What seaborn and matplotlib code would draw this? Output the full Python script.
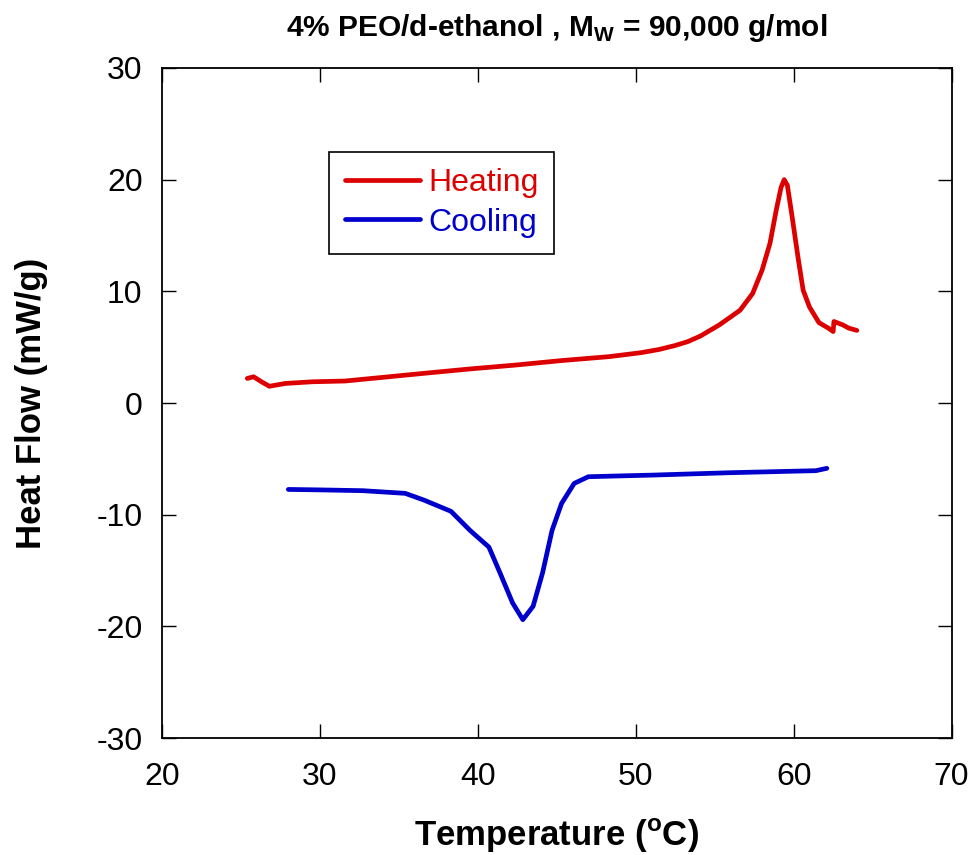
import matplotlib
matplotlib.use("Agg")
import matplotlib.pyplot as plt
import seaborn as sns
import pandas as pd

# heating scan
heat_T = [25.4, 25.8, 26.3, 26.8, 27.8, 29.5, 31.6, 34.0, 36.6, 39.5, 42.4, 45.3,
          48.3, 50.3, 51.5, 52.5, 53.3, 54.1, 55.3, 56.6, 57.4, 58.0, 58.5, 58.9, 59.2,
          59.4, 59.6, 59.9, 60.3, 60.6, 61.0, 61.6, 62.2, 62.5, 62.55, 63.1, 63.5, 64.0]
heat_HF = [2.2, 2.35, 1.9, 1.5, 1.75, 1.9, 1.97, 2.3, 2.66, 3.05, 3.4, 3.8,
           4.15, 4.5, 4.8, 5.15, 5.5, 6.0, 7.0, 8.3, 9.8, 11.9, 14.3, 17.3, 19.3,
           20.0, 19.5, 16.7, 12.8, 10.1, 8.6, 7.2, 6.7, 6.4, 7.3, 7.0, 6.7, 6.5]

# cooling scan
cool_T = [28.0, 30.0, 32.7, 35.4, 36.6, 38.3, 39.5, 40.7, 41.4, 42.2, 42.85,
          43.5, 44.1, 44.7, 45.3, 46.1, 47.0, 51.2, 56.0, 61.4, 62.1]
cool_HF = [-7.74, -7.78, -7.85, -8.09, -8.7, -9.7, -11.4, -12.9, -15.2, -17.9, -19.4,
           -18.2, -15.2, -11.4, -9.0, -7.2, -6.6, -6.45, -6.24, -6.06, -5.85]

labels = ["Heating", "Cooling"]
colors = ["#dd0000", "#0000cc"]

df = pd.concat([
    pd.DataFrame({"T": heat_T, "HF": heat_HF, "scan": labels[0]}),
    pd.DataFrame({"T": cool_T, "HF": cool_HF, "scan": labels[1]}),
])

sns.set_theme(style="ticks")
plt.rcParams['font.family'] = ['Liberation Sans', 'DejaVu Sans']
plt.rcParams['mathtext.fontset'] = 'custom'
plt.rcParams['mathtext.rm'] = 'Liberation Sans'
plt.rcParams['mathtext.bf'] = 'Liberation Sans:bold'
plt.rcParams['axes.unicode_minus'] = False
plt.rcParams['text.color'] = 'black'
plt.rcParams['axes.labelcolor'] = 'black'

fig = plt.figure(figsize=(9.73, 8.55), dpi=100)
ax = fig.add_axes([0.1665, 0.1368, 0.8115, 0.7837])

sns.lineplot(data=df, x="T", y="HF", hue="scan", palette=colors, sort=False,
             estimator=None, linewidth=3.4, ax=ax)

ax.set_xlim(20, 70)
ax.set_ylim(-30, 30)
ax.set_xticks(range(20, 71, 10))
ax.set_yticks(range(-30, 31, 10))
ax.tick_params(direction="in", length=10, width=1, top=True, right=True,
               labelsize=23, colors="black")
ax.tick_params(axis="x", pad=17)
ax.tick_params(axis="y", pad=14)
for s in ax.spines.values():
    s.set_linewidth(1.3)
    s.set_color("black")

ax.set_xlabel(r"Temperature ($^\mathbf{o}$C)", fontsize=25, fontweight="bold", labelpad=18)
ax.set_ylabel("Heat Flow (mW/g)", fontsize=25, fontweight="bold", labelpad=35)
ax.set_title(r"4% PEO/d-ethanol , M$_\mathbf{W}$ = 90,000 g/mol", fontsize=21.5,
             fontweight="bold", pad=23)

leg = ax.legend(loc="upper left", bbox_to_anchor=(0.2114, 0.8746), fontsize=23,
                frameon=True, fancybox=False, edgecolor="black", framealpha=1,
                labelcolor="linecolor", handlelength=2.35, borderpad=0.5,
                labelspacing=0.3, handletextpad=0.25, borderaxespad=0)
leg.get_frame().set_linewidth(1.2)
for line in leg.get_lines():
    line.set_linewidth(3.4)

plt.savefig("out.png", dpi=100)
